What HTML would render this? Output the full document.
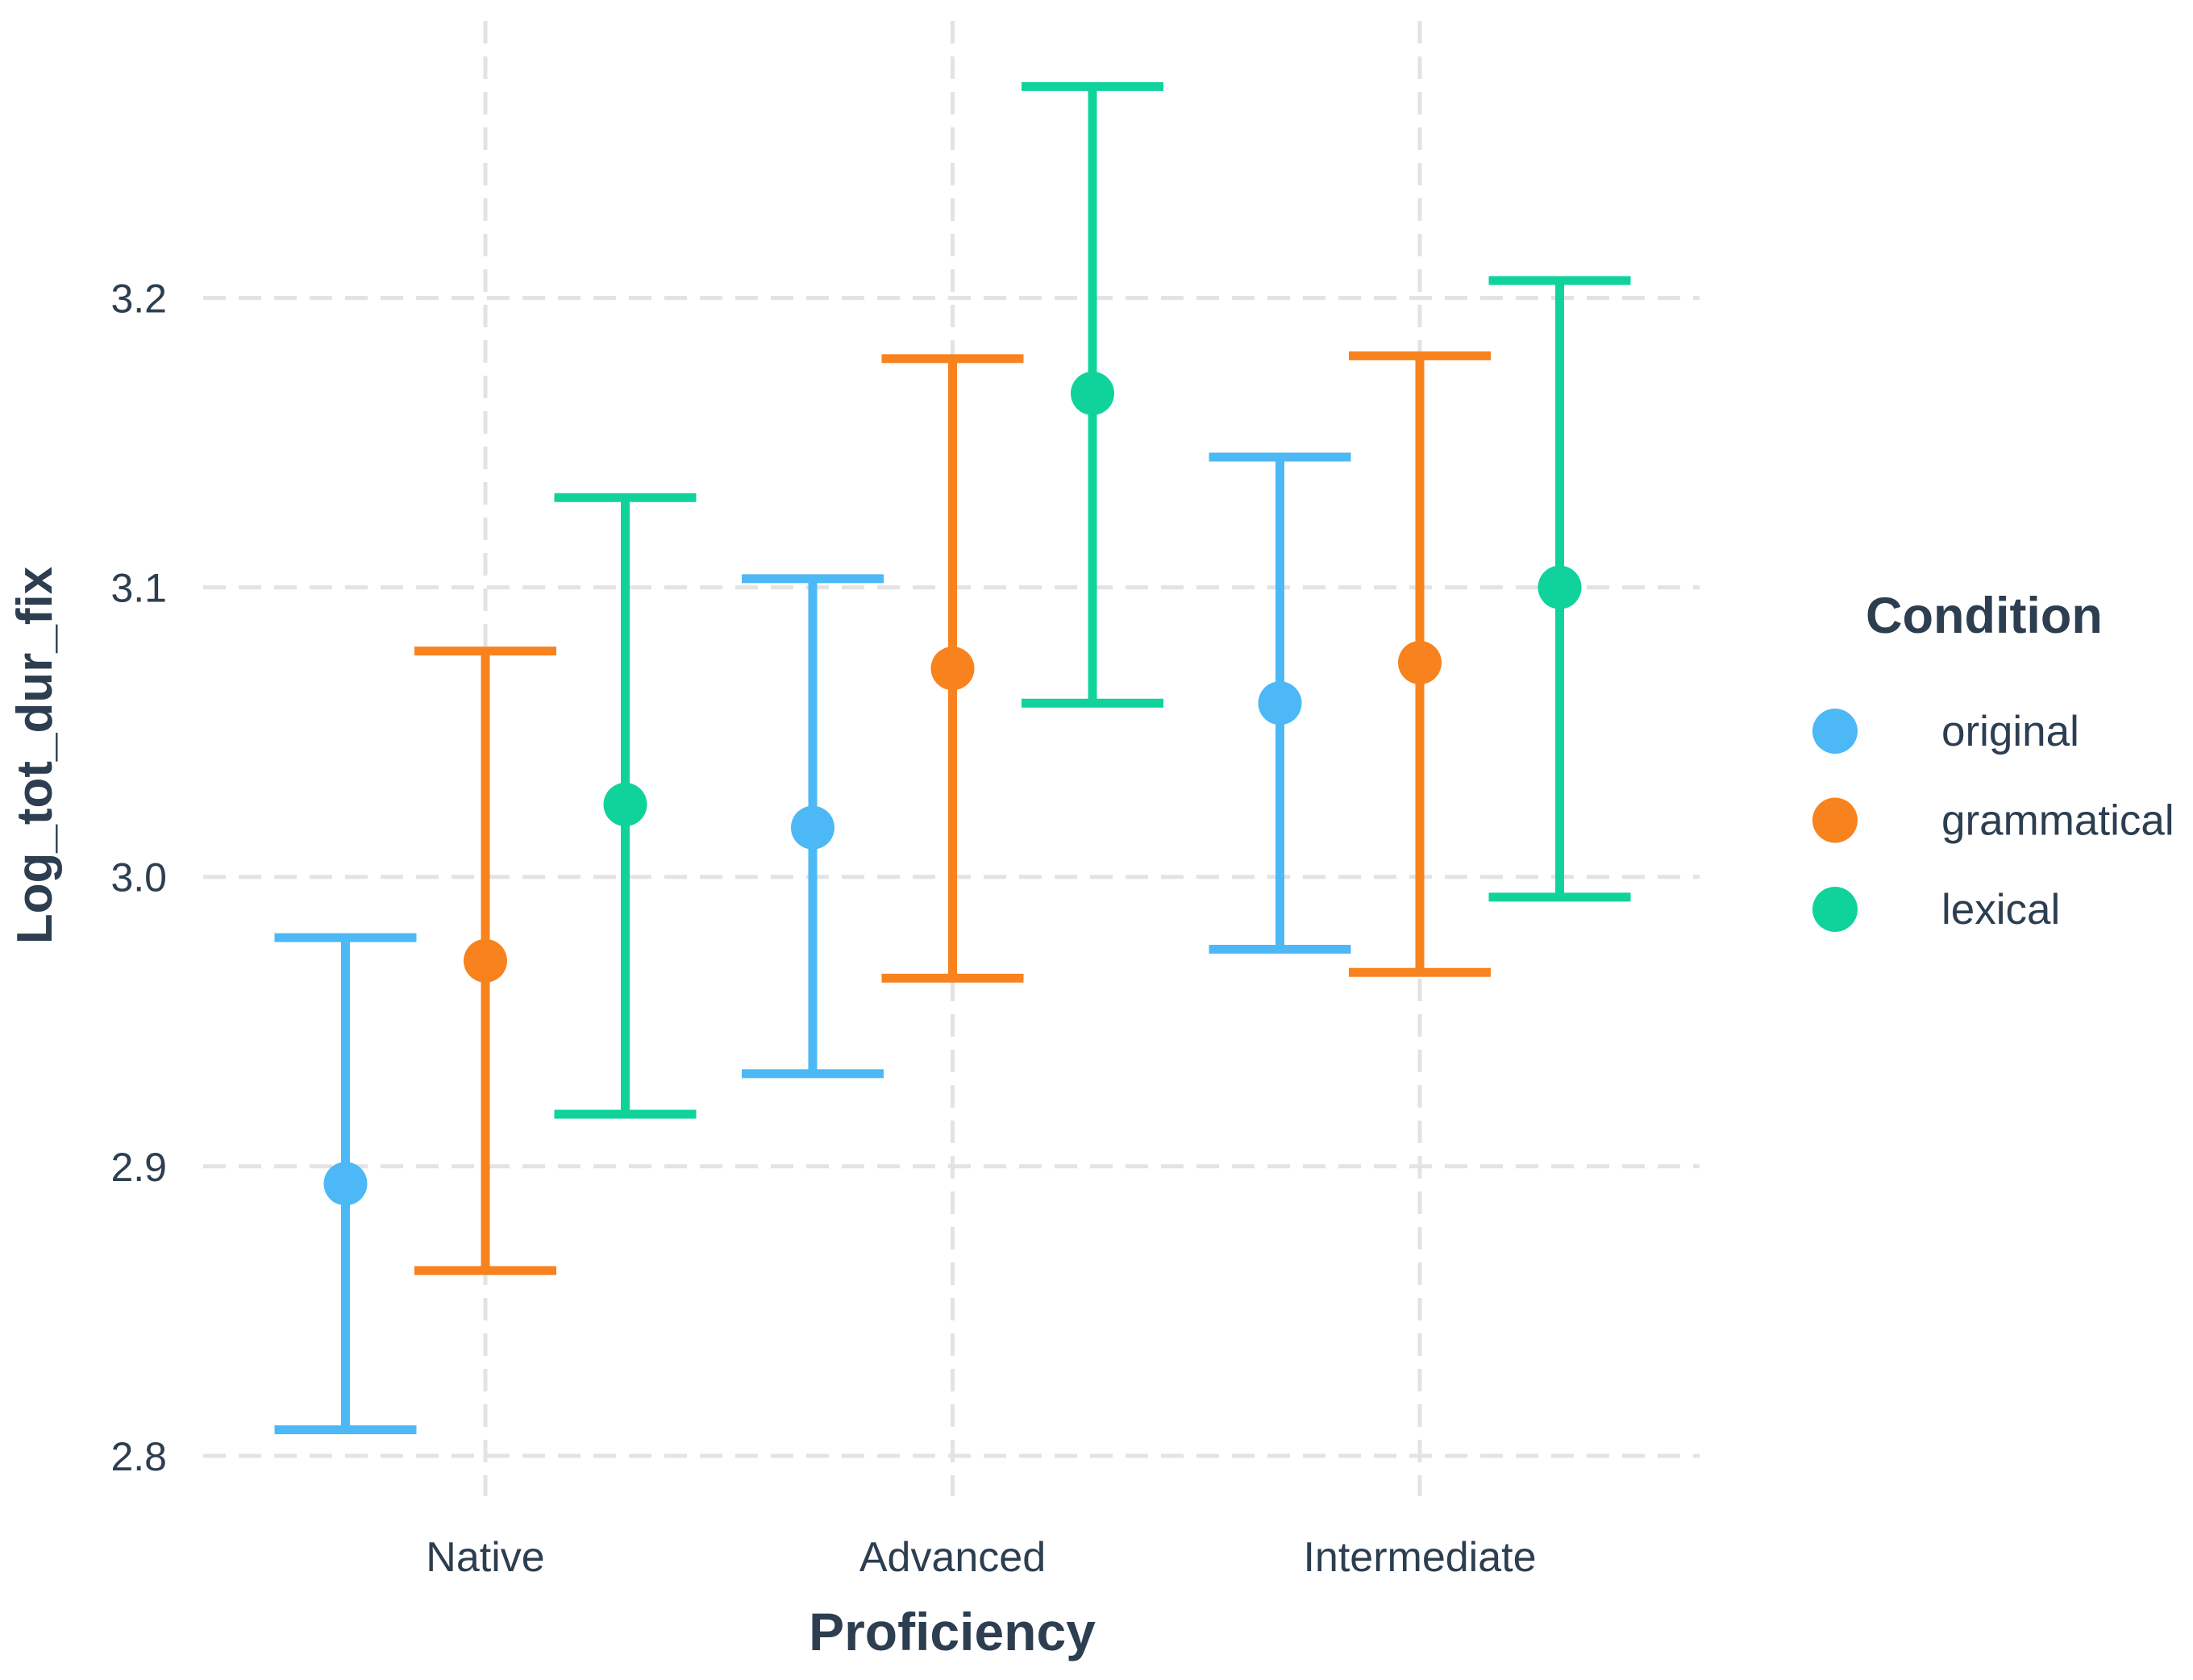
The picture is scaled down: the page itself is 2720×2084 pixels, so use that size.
<!DOCTYPE html>
<html><head><meta charset="utf-8"><style>
html,body{margin:0;padding:0;background:#fff;}
svg{display:block;font-family:"Liberation Sans",Arial,sans-serif;}
</style></head><body>
<svg id="chart" width="2720" height="2084" viewBox="0 0 2720 2084" xmlns="http://www.w3.org/2000/svg">
<g id="grid"></g>
<g id="yticks"></g>
<g id="xticks"></g>
<g id="marks"></g>
<text x="1181" y="2047" font-size="66" font-weight="bold" fill="#2c3e50" text-anchor="middle">Proficiency</text>
<text transform="translate(64,937) rotate(-90)" font-size="62" font-weight="bold" fill="#2c3e50" text-anchor="middle">Log_tot_dur_fix</text>
<g>
<text x="2314" y="785" font-size="63" font-weight="bold" fill="#2c3e50">Condition</text>
<g id="legend-entries"></g>
</g>
</svg>
<script>
const categories = ["Native","Advanced","Intermediate"];
const conditions = ["original","grammatical","lexical"];
const colors = ["#4cb8f5","#f8821e","#10d39b"];
const meanOriginal = [2.894, 3.017, 3.060];
const upperOriginal = [2.979, 3.103, 3.145];
const lowerOriginal = [2.809, 2.932, 2.975];
const meanGrammatical = [2.971, 3.072, 3.074];
const upperGrammatical = [3.078, 3.179, 3.180];
const lowerGrammatical = [2.864, 2.965, 2.967];
const meanLexical = [3.025, 3.167, 3.100];
const upperLexical = [3.131, 3.273, 3.206];
const lowerLexical = [2.918, 3.060, 2.993];
const yTicks = [2.8, 2.9, 3.0, 3.1, 3.2];
const yTickLabels = ["2.8","2.9","3.0","3.1","3.2"];

const NS="http://www.w3.org/2000/svg";
function y(v){ return 369.5 + (3.2 - v) * 3591; }
function x(i){ return 602 + i * 579.5; }
const dodge = 173.5;
function mk(tag, attrs, parent){ const e=document.createElementNS(NS,tag); for(const k in attrs) e.setAttribute(k,attrs[k]); parent.appendChild(e); return e; }

const grid=document.getElementById('grid');
yTicks.forEach((t,i)=>{
  const l=mk('line',{x1:252,x2:2108,y1:y(t),y2:y(t),stroke:'#e3e3e3','stroke-width':5,'stroke-dasharray':'28 16'},grid);
  
  
  const tx=mk('text',{x:207,y:y(t)+18,'font-size':50,fill:'#2c3e50','text-anchor':'end'},document.getElementById('yticks'));
  tx.textContent=yTickLabels[i];
  
  
});
categories.forEach((c,i)=>{
  const l=mk('line',{x1:x(i),x2:x(i),y1:26,y2:1856,stroke:'#e3e3e3','stroke-width':5,'stroke-dasharray':'28 16'},grid);
  
  
  const tx=mk('text',{x:x(i),y:1949,'font-size':52,fill:'#2c3e50','text-anchor':'middle'},document.getElementById('xticks'));
  tx.textContent=c;
  
  
});
const series=[[meanOriginal,upperOriginal,lowerOriginal],[meanGrammatical,upperGrammatical,lowerGrammatical],[meanLexical,upperLexical,lowerLexical]];
const marks=document.getElementById('marks');
series.forEach((s,k)=>{
  categories.forEach((c,i)=>{
    const cx=x(i)+(k-1)*dodge, col=colors[k];
    const g=mk('g',{},marks);
    
    
    mk('line',{x1:cx,x2:cx,y1:y(s[1][i]),y2:y(s[2][i]),stroke:col,'stroke-width':11},g);
    mk('line',{x1:cx-88,x2:cx+88,y1:y(s[1][i]),y2:y(s[1][i]),stroke:col,'stroke-width':11},g);
    mk('line',{x1:cx-88,x2:cx+88,y1:y(s[2][i]),y2:y(s[2][i]),stroke:col,'stroke-width':11},g);
    const p=mk('circle',{cx:cx,cy:y(s[0][i]),r:27,fill:col},g);
    
    
  });
});
const le=document.getElementById('legend-entries');
conditions.forEach((c,k)=>{
  const g=mk('g',{},le);
  
  
  mk('circle',{cx:2276,cy:907+k*110.5,r:28,fill:colors[k]},g);
  const t=mk('text',{x:2408,y:907+k*110.5+18,'font-size':53,fill:'#2c3e50'},g);
  t.textContent=c;
});
</script>
</body></html>
